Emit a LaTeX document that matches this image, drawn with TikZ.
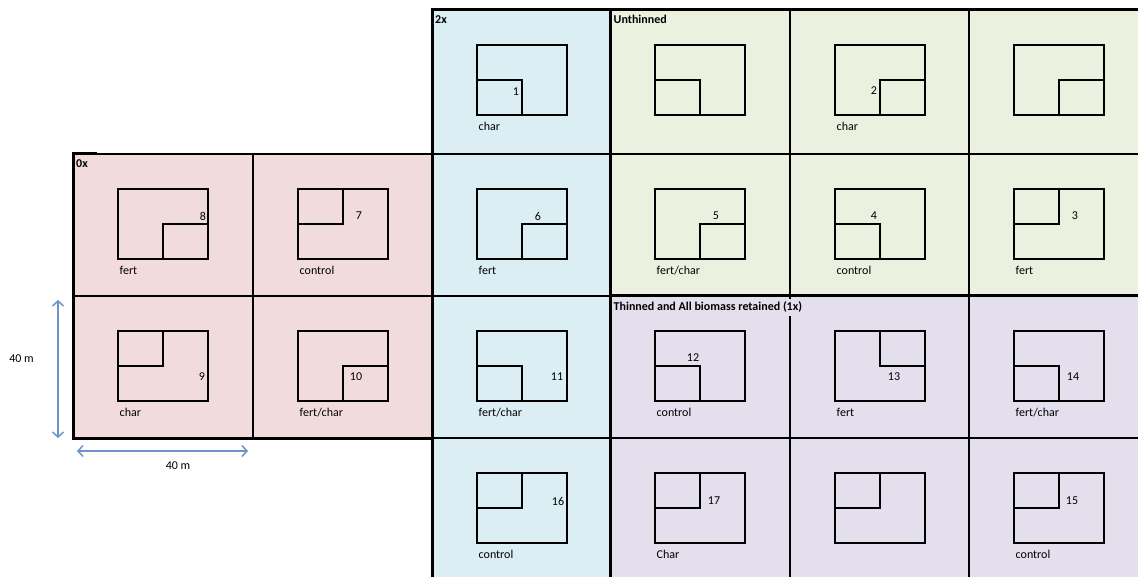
\documentclass[tikz,border=0pt]{standalone}
\usepackage{fontspec}
\setmainfont{Carlito}
\usetikzlibrary{positioning,arrows.meta}
\definecolor{nullbg}{HTML}{F2DCDB}
\definecolor{twobg}{HTML}{DBEEF4}
\definecolor{unthbg}{HTML}{EBF1DE}
\definecolor{thinbg}{HTML}{E4DFEC}
\definecolor{dimblue}{HTML}{6C94C8}

\begin{document}
\begin{tikzpicture}[x=1pt,y=-1pt,
  cellline/.style={line width=1.2pt},
  grpborder/.style={line width=3pt},
  plotbox/.style={draw,line width=1.5pt,minimum width=90pt,minimum height=70pt,inner sep=0pt,outer sep=0pt},
  subplot/.style={line width=1.5pt},
  plotno/.style={font=\fontsize{12}{14}\selectfont,inner sep=0pt},
  plotlbl/.style={font=\fontsize{12}{14}\selectfont,inner sep=0pt,text height=8.5pt,text depth=2.5pt},
  grptitle/.style={font=\fontsize{12}{14}\selectfont\bfseries,inner xsep=0.5pt,inner ysep=3pt,text height=8.5pt,text depth=2.5pt,anchor=north west},
  dimarrow/.style={draw=dimblue,line width=1.5pt,{Straight Barb[length=5pt,width=11pt]}-{Straight Barb[length=5pt,width=11pt]}},
  dimlbl/.style={font=\fontsize{12}{14}\selectfont,inner sep=0pt}]
\useasboundingbox (0,0) rectangle (1138,577);

% treatment blocks
\fill[nullbg] (73,154) rectangle (432,438);
\fill[twobg] (432,10) rectangle (610,590);
\fill[unthbg] (610,10) rectangle (1145,296);
\fill[thinbg] (610,296) rectangle (1145,590);

% cell lines
\draw[cellline] (97,154) -- (432,154);
\draw[cellline] (253,154) -- (253,438) (73,296) -- (432,296);
\draw[cellline] (432,154) -- (610,154) (432,296) -- (610,296) (432,438) -- (610,438);
\draw[cellline] (790,10) -- (790,590) (969,10) -- (969,590) (610,154) -- (1145,154) (610,438) -- (1145,438);

% block borders
\draw[grpborder] (97,154) -- (73,154) -- (73,438) -- (432,438);
\draw[grpborder] (432,10) rectangle (610,600);
\draw[grpborder] (610,10) rectangle (1150,296);
\draw[grpborder] (610,296) rectangle (1150,600);

% block titles
\node[grptitle] (t0x) at (75.5,156) {0x};
\node[grptitle] (t2x) at (434.5,12) {2x};
\node[grptitle] (tunth) at (613,12) {Unthinned};
\node[grptitle,fill=thinbg] (tthin) at (613,298.5) {Thinned and All biomass retained (1x)};

% plots: cell corner / sub-plot corner / number and its place / treatment
\foreach \cx/\cy/\qx/\qy/\pno/\nx/\ny/\lbl [count=\idx] in {
  432/10/45/70/1/84/82/char,
  610/10/45/70/{}/0/0/{},
  790/10/90/70/2/84/81/char,
  969/10/90/70/{}/0/0/{},
  73/154/90/70/8/130/62/fert,
  253/154/45/35/7/106/62/control,
  432/154/90/70/6/106/62/fert,
  610/154/90/70/5/106/62/{fert/char},
  790/154/45/70/4/84/62/control,
  969/154/45/35/3/106/62/fert,
  73/296/45/35/9/129/81/char,
  253/296/90/70/10/103/81/{fert/char},
  432/296/45/70/11/125/81/{fert/char},
  610/296/45/70/12/83/62/control,
  790/296/90/35/13/104/81/fert,
  969/296/45/70/14/104/81/{fert/char},
  432/438/45/35/16/126/63/control,
  610/438/45/35/17/104/63/Char,
  790/438/45/35/{}/0/0/{},
  969/438/45/35/15/103/63/control}
{
  \node[plotbox] (plot\idx) at (\cx+90,\cy+70) {};
  \draw[subplot] (plot\idx.north west) ++(\qx-45,\qy-35) rectangle ++(45,35);
  \node[plotno] (no\idx) at (\cx+\nx,\cy+\ny) {\pno};
  \node[plotlbl,below right=6.5pt and 1.5pt of plot\idx.south west] (lbl\idx) {\lbl};
}

% plot size
\coordinate (vtop) at (58,300);
\coordinate (vbot) at (58,438);
\draw[dimarrow] (vtop) -- (vbot);
\node[dimlbl] (vlen) at (21.5,359) {40 m};
\coordinate (hleft) at (77,451);
\coordinate (hright) at (248,451);
\draw[dimarrow] (hleft) -- (hright);
\node[dimlbl] (hlen) at (178,466) {40 m};
\end{tikzpicture}
\end{document}
